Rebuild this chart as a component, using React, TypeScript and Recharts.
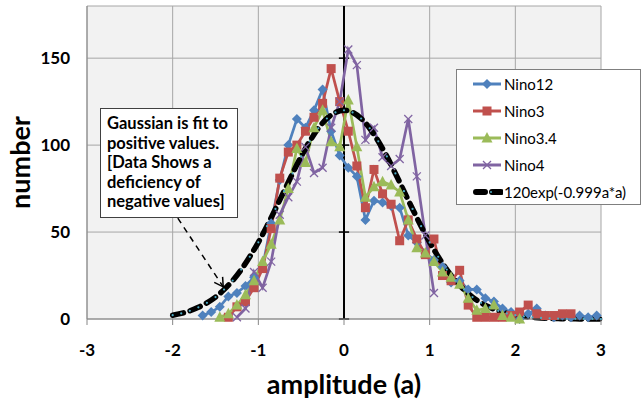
import React from 'react';
import { ComposedChart, Line, XAxis, YAxis, CartesianGrid, ReferenceLine, Legend } from 'recharts';

const FONT = 'Lato, "Open Sans", "DejaVu Sans", sans-serif';

const xTicks = [-3, -2, -1, 0, 1, 2, 3];
const yTicks = [0, 50, 100, 150];

const nino12Amp = [-1.65, -1.55, -1.45, -1.35, -1.25, -1.15, -1.05, -0.95, -0.85, -0.75, -0.65, -0.55, -0.45, -0.35, -0.25, -0.15, -0.05, 0.05, 0.15, 0.25, 0.35, 0.45, 0.55, 0.65, 0.75, 0.85, 0.95, 1.05, 1.15, 1.25, 1.35, 1.45, 1.55, 1.65, 1.75, 1.85, 1.95, 2.05, 2.15, 2.25, 2.35, 2.45, 2.55, 2.65, 2.75, 2.85, 2.95];
const nino12Count = [2, 4, 7, 13, 15, 19, 24, 30, 55, 80, 100, 115, 110, 120, 132, 108, 94, 87, 82, 57, 68, 67, 65, 64, 48, 44, 38, 34, 30, 21, 22, 17, 17, 12, 10, 6, 4, 0, 3, 6, 2, 1, 2, 1, 2, 1, 2];

const nino3Amp = [-1.35, -1.25, -1.15, -1.05, -0.95, -0.85, -0.75, -0.65, -0.55, -0.45, -0.35, -0.25, -0.15, -0.05, 0.05, 0.15, 0.25, 0.35, 0.45, 0.55, 0.65, 0.75, 0.85, 0.95, 1.05, 1.15, 1.25, 1.35, 1.45, 1.55, 1.65, 1.75, 1.85, 1.95, 2.05, 2.15, 2.25, 2.35, 2.45, 2.55, 2.65];
const nino3Count = [1, 7, 10, 18, 29, 52, 81, 96, 100, 108, 116, 124, 144, 125, 108, 88, 64, 86, 72, 66, 45, 57, 46, 37, 46, 25, 22, 28, 8, 1, 1, 1, 1, 2, 4, 8, 3, 2, 2, 3, 3];

const nino34Amp = [-1.45, -1.35, -1.25, -1.15, -1.05, -0.95, -0.85, -0.75, -0.65, -0.55, -0.45, -0.35, -0.25, -0.15, -0.05, 0.05, 0.15, 0.25, 0.35, 0.45, 0.55, 0.65, 0.75, 0.85, 0.95, 1.05, 1.15, 1.25, 1.35, 1.45, 1.55, 1.65, 1.75, 1.85, 1.95, 2.05];
const nino34Count = [1, 3, 8, 14, 22, 33, 43, 57, 75, 98, 90, 110, 120, 102, 99, 126, 99, 70, 76, 79, 77, 73, 57, 41, 38, 33, 27, 24, 20, 12, 5, 6, 8, 2, 1, 0];

const nino4Amp = [-1.25, -1.15, -1.05, -0.95, -0.85, -0.75, -0.65, -0.55, -0.45, -0.35, -0.25, -0.15, -0.05, 0.05, 0.15, 0.25, 0.35, 0.45, 0.55, 0.65, 0.75, 0.85, 0.95, 1.05];
const nino4Count = [1, 6, 27, 18, 33, 60, 70, 79, 99, 84, 87, 110, 125, 155, 146, 103, 110, 93, 88, 92, 115, 82, 48, 15];

const gaussAmp = [-2.0, -1.9, -1.8, -1.7, -1.6, -1.5, -1.4, -1.3, -1.2, -1.1, -1.0, -0.9, -0.8, -0.7, -0.6, -0.5, -0.4, -0.3, -0.2, -0.1, 0.0, 0.1, 0.2, 0.3, 0.4, 0.5, 0.6, 0.7, 0.8, 0.9, 1.0, 1.1, 1.2, 1.3, 1.4, 1.5, 1.6, 1.7, 1.8, 1.9, 2.0, 2.1, 2.2, 2.3, 2.4, 2.5, 2.6, 2.7, 2.8, 2.9, 3.0];
const gaussCount = [2.2, 3.2, 4.7, 6.7, 9.3, 12.6, 16.9, 22.1, 28.4, 35.8, 44.1, 53.4, 63.3, 73.5, 83.7, 93.5, 102.2, 109.7, 115.3, 118.8, 120, 118.8, 115.3, 109.7, 102.2, 93.5, 83.7, 73.5, 63.3, 53.4, 44.1, 35.8, 28.4, 22.1, 16.9, 12.6, 9.3, 6.7, 4.7, 3.2, 2.2, 1.5, 0.95, 0.6, 0.38, 0.23, 0.14, 0.08, 0.05, 0.03, 0.01];

const calloutLines = ['Gaussian is fit to', 'positive values.', '[Data Shows a', 'deficiency of', 'negative values]'];
const arrowFrom = { x: -1.94, y: 58 };
const arrowTo = { x: -1.41, y: 18.5 };

const BLUE = '#4f81bd';
const RED = '#c0504d';
const GREEN = '#9bbb59';
const PURPLE = '#8064a2';

const toData = (xs: number[], ys: number[]) => xs.map((a, i) => ({ a, v: ys[i] }));

const series = [
  { name: 'Nino12', data: toData(nino12Amp, nino12Count), color: BLUE, kind: 'diamond' },
  { name: 'Nino3', data: toData(nino3Amp, nino3Count), color: RED, kind: 'square' },
  { name: 'Nino3.4', data: toData(nino34Amp, nino34Count), color: GREEN, kind: 'triangle' },
  { name: 'Nino4', data: toData(nino4Amp, nino4Count), color: PURPLE, kind: 'x' },
];
const gaussName = '120exp(-0.999a*a)';
const gaussData = toData(gaussAmp, gaussCount);
const legendOrder = [...series.map((s) => s.name), gaussName];

function Marker({ kind, color, cx, cy }: any) {
  if (cx == null || cy == null || isNaN(cx) || isNaN(cy)) return null;
  switch (kind) {
    case 'diamond':
      return <polygon points={`${cx},${cy - 5} ${cx + 5},${cy} ${cx},${cy + 5} ${cx - 5},${cy}`} fill={color} />;
    case 'square':
      return <rect x={cx - 4.5} y={cy - 4.5} width={9} height={9} fill={color} />;
    case 'triangle':
      return <polygon points={`${cx},${cy - 6} ${cx + 5.5},${cy + 4.5} ${cx - 5.5},${cy + 4.5}`} fill={color} />;
    case 'x':
      return (
        <g stroke={color} strokeWidth={1.3}>
          <line x1={cx - 4} y1={cy - 4} x2={cx + 4} y2={cy + 4} />
          <line x1={cx - 4} y1={cy + 4} x2={cx + 4} y2={cy - 4} />
        </g>
      );
    case 'dot':
      return <circle cx={cx} cy={cy} r={1.1} fill="#4bacc6" />;
    default:
      return null;
  }
}

const makeDot = (kind: string, color: string) => (p: any) => (
  <g key={`dot-${kind}-${p.index}`}>
    <Marker kind={kind} color={color} cx={p.cx} cy={p.cy} />
  </g>
);

function ArrowShape(p: any) {
  const { x1, y1, x2, y2 } = p;
  const th = Math.atan2(y2 - y1, x2 - x1);
  const L = 10;
  const a1 = th + Math.PI - Math.PI / 6;
  const a2 = th + Math.PI + Math.PI / 6;
  return (
    <g>
      <line x1={x1} y1={y1} x2={x2} y2={y2} stroke="#000" strokeWidth={1.5} strokeDasharray="6 5" />
      <polyline
        points={`${x2 + L * Math.cos(a1)},${y2 + L * Math.sin(a1)} ${x2},${y2} ${x2 + L * Math.cos(a2)},${y2 + L * Math.sin(a2)}`}
        fill="none"
        stroke="#000"
        strokeWidth={1.5}
      />
    </g>
  );
}

const kindByName: Record<string, string> = { Nino12: 'diamond', Nino3: 'square', 'Nino3.4': 'triangle', Nino4: 'x' };

function renderLegend(props: any) {
  const payload = [...(props.payload || [])].sort(
    (p: any, q: any) => legendOrder.indexOf(p.value) - legendOrder.indexOf(q.value)
  );
  return (
    <div
      style={{
        border: '1px solid #7f7f7f',
        background: '#fff',
        width: 185,
        height: 136,
        boxSizing: 'border-box',
        fontFamily: FONT,
        fontSize: 15,
        color: '#000',
        paddingTop: 0,
      }}
    >
      {payload.map((e: any) => {
        const isGauss = e.value === gaussName;
        return (
          <div key={e.value} style={{ height: 27.2, display: 'flex', alignItems: 'center', paddingLeft: 16 }}>
            <svg width={30} height={14} style={{ display: 'block' }}>
              {isGauss ? (
                <g>
                  <line x1={3} y1={7} x2={28} y2={7} stroke="#000" strokeWidth={6} strokeDasharray="9 7" strokeLinecap="round" />
                  <circle cx={18} cy={7} r={1} fill="#4bacc6" />
                </g>
              ) : (
                <g>
                  <line x1={0} y1={7} x2={28} y2={7} stroke={e.color} strokeWidth={3} />
                  <Marker kind={kindByName[e.value]} color={e.color} cx={14} cy={7} />
                </g>
              )}
            </svg>
            <span style={{ marginLeft: 1, whiteSpace: 'nowrap' }}>{e.value}</span>
          </div>
        );
      })}
    </div>
  );
}

const tickStyle = { fontFamily: FONT, fontSize: 17, fontWeight: 700, fill: '#000' };
const titleStyle = { fontFamily: FONT, fontSize: 27, fontWeight: 700, fill: '#000' };

export default function App() {
  return (
    <div style={{ position: 'absolute', left: 0, top: 0, width: 643, height: 405, background: '#fff' }}>
      <ComposedChart width={643} height={405} margin={{ top: 6, right: 42, bottom: 0, left: 0 }}>
        <CartesianGrid fill="#f2f2f2" stroke="#a6a6a6" strokeWidth={1} />
        <XAxis
          type="number"
          dataKey="a"
          domain={[-3, 3]}
          ticks={xTicks}
          height={86}
          tickSize={6}
          tickMargin={19}
          axisLine={{ stroke: '#868686' }}
          tickLine={{ stroke: '#868686' }}
          tick={tickStyle}
          label={{ value: 'amplitude (a)', position: 'insideBottom', offset: 11, style: titleStyle }}
        />
        <YAxis
          type="number"
          domain={[0, 180]}
          ticks={yTicks}
          width={87}
          tickLine={false}
          tickMargin={11}
          axisLine={{ stroke: '#868686' }}
          tick={tickStyle}
          label={{ value: 'number', angle: -90, position: 'insideLeft', offset: 20, style: { ...titleStyle, textAnchor: 'middle' } }}
        />
        <ReferenceLine x={0} stroke="#000" strokeWidth={2} />
        {yTicks.map((t) => (
          <ReferenceLine key={`yt-${t}`} segment={[{ x: -0.06, y: t }, { x: 0.06, y: t }]} stroke="#000" strokeWidth={1.5} ifOverflow="visible" />
        ))}
        <ReferenceLine segment={[arrowFrom, arrowTo]} ifOverflow="visible" shape={(p: any) => <ArrowShape {...p} />} />
        {series.map((s) => (
          <Line
            key={s.name}
            data={s.data}
            dataKey="v"
            name={s.name}
            type="linear"
            stroke={s.color}
            strokeWidth={2.7}
            dot={makeDot(s.kind, s.color)}
            activeDot={false}
            isAnimationActive={false}
          />
        ))}
        <Line
          data={gaussData}
          dataKey="v"
          name={gaussName}
          type="monotone"
          stroke="#000"
          strokeWidth={5.5}
          strokeDasharray="11 7"
          strokeLinecap="round"
          dot={makeDot('dot', '#4bacc6')}
          activeDot={false}
          isAnimationActive={false}
        />
        <Legend
          layout="vertical"
          align="center"
          verticalAlign="middle"
          wrapperStyle={{ left: 456, top: 69, width: 185, height: 136 }}
          content={renderLegend}
        />
      </ComposedChart>
      <div
        style={{
          position: 'absolute',
          left: 100,
          top: 108,
          width: 138,
          height: 110,
          boxSizing: 'border-box',
          border: '1px solid #404040',
          background: '#fff',
          fontFamily: FONT,
          fontWeight: 700,
          fontSize: 16.5,
          lineHeight: '19.5px',
          padding: '5px 0 0 6px',
          color: '#000',
          whiteSpace: 'nowrap',
        }}
      >
        {calloutLines.map((l) => (
          <div key={l}>{l}</div>
        ))}
      </div>
    </div>
  );
}
